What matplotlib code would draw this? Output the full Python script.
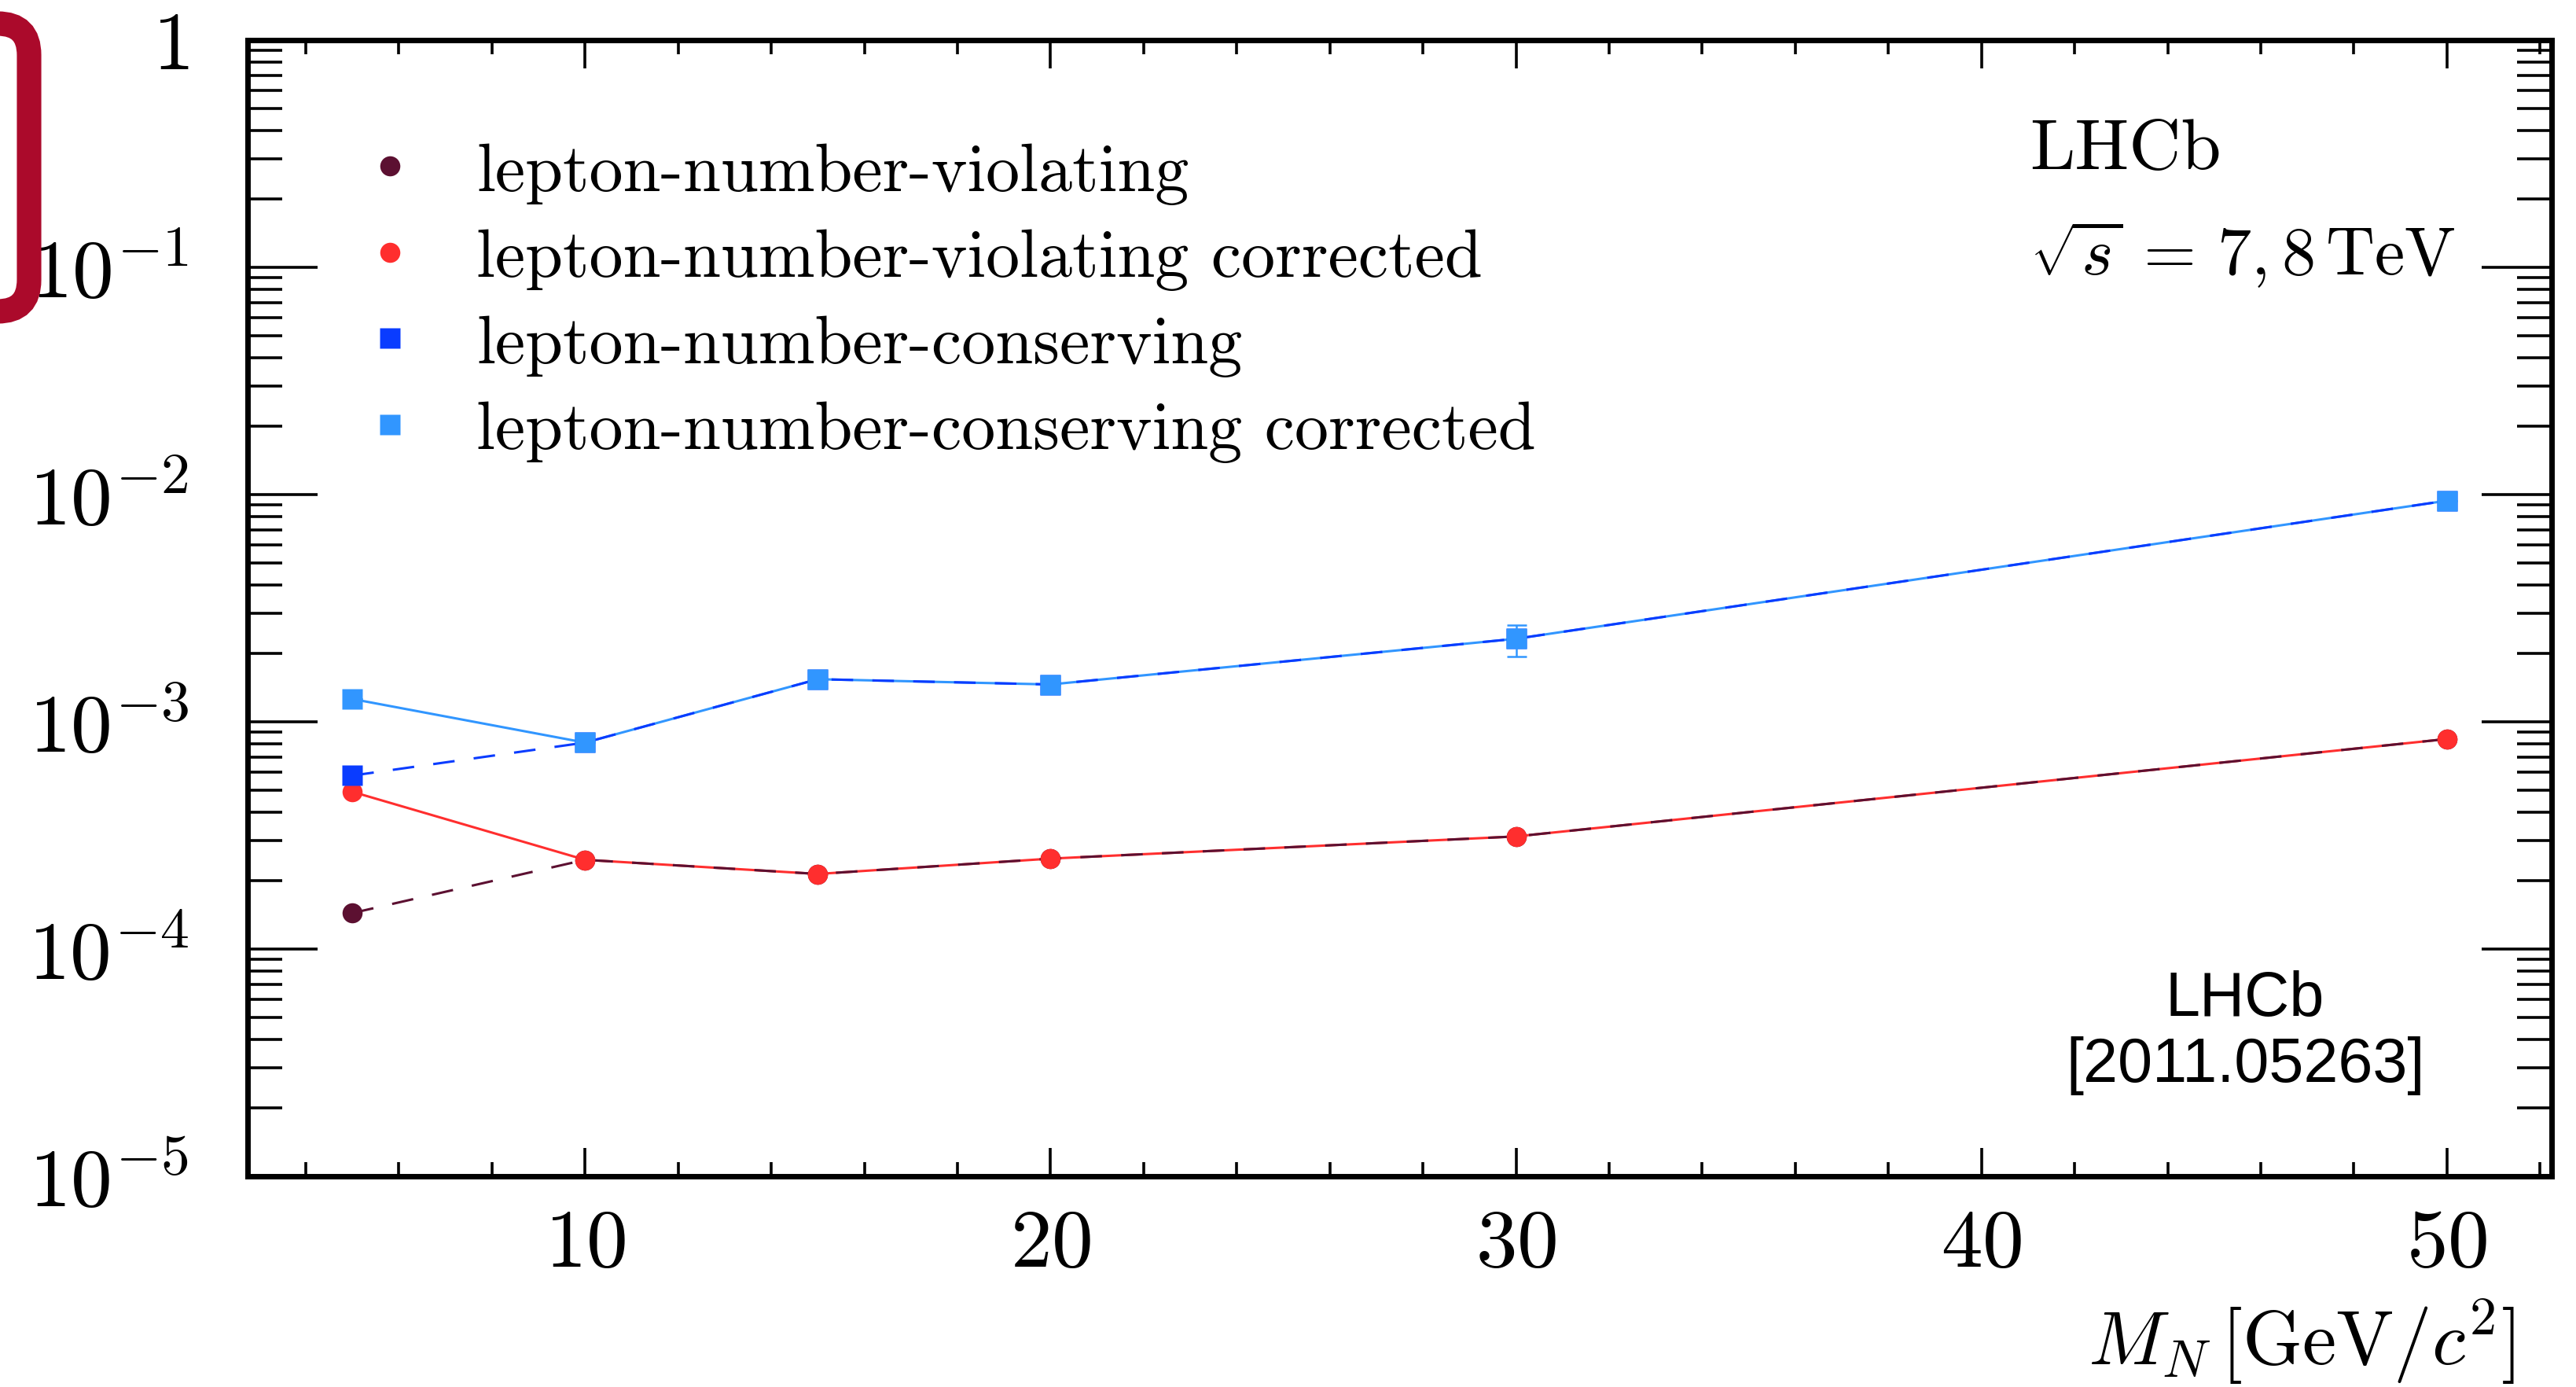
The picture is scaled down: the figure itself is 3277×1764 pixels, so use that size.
import math
import matplotlib
matplotlib.use("Agg")
import matplotlib.pyplot as plt
from matplotlib.lines import Line2D
from matplotlib.patches import FancyBboxPatch
from matplotlib.ticker import FixedLocator, MultipleLocator, LogLocator, FuncFormatter, NullFormatter

# heavy neutrino mass points and efficiencies
masses = [5, 10, 15, 20, 30, 50]
lnv = [1.44e-4, 2.47e-4, 2.14e-4, 2.50e-4, 3.13e-4, 8.4e-4]
lnv_corr = [4.92e-4, 2.47e-4, 2.14e-4, 2.50e-4, 3.13e-4, 8.4e-4]
lnc = [5.8e-4, 8.1e-4, 1.54e-3, 1.46e-3, 2.32e-3, 9.4e-3]
lnc_corr = [1.26e-3, 8.1e-4, 1.54e-3, 1.46e-3, 2.32e-3, 9.4e-3]
lnc_corr_err_lo = [0, 0, 0, 0, 0.38e-3, 0]
lnc_corr_err_hi = [0, 0, 0, 0, 0.35e-3, 0]

labels = ['lepton-number-violating', 'lepton-number-violating corrected',
          'lepton-number-conserving', 'lepton-number-conserving corrected']

c_lnv = '#5c1031'
c_lnv_corr = '#ff2e2e'
c_lnc = '#0a3cff'
c_lnc_corr = '#3196ff'

plt.rcParams['mathtext.fontset'] = 'cm'
plt.rcParams['font.family'] = ['cmr10', 'DejaVu Serif']
plt.rcParams['axes.formatter.use_mathtext'] = True

W, H, DPI = 3277, 1765, 200
fig = plt.figure(figsize=(W / DPI, H / DPI), dpi=DPI)
ax = fig.add_axes([315 / W, 1 - 1497 / H, (3246 - 315) / W, (1497 - 52) / H])

ms = 9.2
lw = 1.1
dash = (9, 8)

# lines first
ax.plot(masses, lnv_corr, '-', color=c_lnv_corr, lw=lw, zorder=2)
ax.plot(masses, lnc_corr, '-', color=c_lnc_corr, lw=lw, zorder=2)
ax.plot(masses, lnv, '--', color=c_lnv, lw=lw, dashes=dash, zorder=2.5)
ax.plot(masses, lnc, '--', color=c_lnc, lw=lw, dashes=dash, zorder=2.5)

# markers on top
ax.plot(masses, lnv, 'o', color=c_lnv, ms=ms, mec='none', zorder=3)
ax.plot(masses, lnv_corr, 'o', color=c_lnv_corr, ms=ms, mec='none', zorder=4)
ax.plot(masses, lnc, 's', color=c_lnc, ms=ms, mec='none', zorder=5)
ax.errorbar(masses, lnc_corr, yerr=[lnc_corr_err_lo, lnc_corr_err_hi], fmt='s',
            color=c_lnc_corr, ms=ms, mec='none', elinewidth=0.9, capsize=4.5,
            capthick=0.9, zorder=6)

ax.set_yscale('log')
ax.set_xlim(2.75, 52.25)
ax.set_ylim(1e-5, 1)

ax.xaxis.set_major_locator(FixedLocator([10, 20, 30, 40, 50]))
ax.xaxis.set_minor_locator(MultipleLocator(2))
ax.yaxis.set_major_locator(LogLocator(base=10, numticks=10))
ax.yaxis.set_minor_locator(LogLocator(base=10, subs=range(2, 10), numticks=50))
ax.yaxis.set_minor_formatter(NullFormatter())


def ylab(v, pos):
    if abs(v - 1) < 1e-9:
        return '$1$'
    return r'$10^{%d}$' % round(math.log10(v))


ax.yaxis.set_major_formatter(FuncFormatter(ylab))

ax.tick_params(which='both', direction='in', top=True, right=True, colors='black')
ax.tick_params(axis='x', which='major', length=13, width=1.3, labelsize=38, pad=15)
ax.tick_params(axis='x', which='minor', length=6.5, width=1.3)
ax.tick_params(axis='y', which='major', length=32, width=1.3, labelsize=38, pad=27)
ax.tick_params(axis='y', which='minor', length=16, width=1.3)
for s in ax.spines.values():
    s.set_linewidth(2.5)

ax.set_xlabel(r'$M_N\,[\mathrm{GeV}/c^2]$', fontsize=35, ha='right')
ax.xaxis.set_label_coords(0.984, -0.106)

handles = [
    Line2D([], [], marker='o', ls='none', color=c_lnv, ms=ms, mec='none'),
    Line2D([], [], marker='o', ls='none', color=c_lnv_corr, ms=ms, mec='none'),
    Line2D([], [], marker='s', ls='none', color=c_lnc, ms=ms, mec='none'),
    Line2D([], [], marker='s', ls='none', color=c_lnc_corr, ms=ms, mec='none'),
]
ax.legend(handles, labels, loc='upper left', bbox_to_anchor=(0.047, 0.91),
          frameon=False, fontsize=31, numpoints=1, handlelength=1.0,
          handletextpad=0.78, labelspacing=0.36, borderpad=0, borderaxespad=0)

ax.text(0.7735, 0.887, 'LHCb', transform=ax.transAxes, fontsize=33, va='baseline')
ax.text(0.7735, 0.794, r'$\sqrt{s}\,=\,7,8\,\mathrm{TeV}$', transform=ax.transAxes,
        fontsize=31, va='baseline')

ax.text(0.867, 0.142, 'LHCb', transform=ax.transAxes, fontsize=28.5, ha='center',
        va='baseline', family='Liberation Sans')
ax.text(0.867, 0.0837, '[2011.05263]', transform=ax.transAxes, fontsize=28.5,
        ha='center', va='baseline', family='Liberation Sans')

# red bracket at the top left corner
br = FancyBboxPatch((-1.0, (H - 397) / DPI), 1.0 + 37 / DPI, (397 - 31) / DPI,
                    boxstyle='round,pad=0,rounding_size=0.2',
                    transform=fig.dpi_scale_trans, fill=False,
                    edgecolor='#ab0a2b', lw=11.2, clip_on=False)
fig.add_artist(br)

fig.savefig('out.png', dpi=DPI)
